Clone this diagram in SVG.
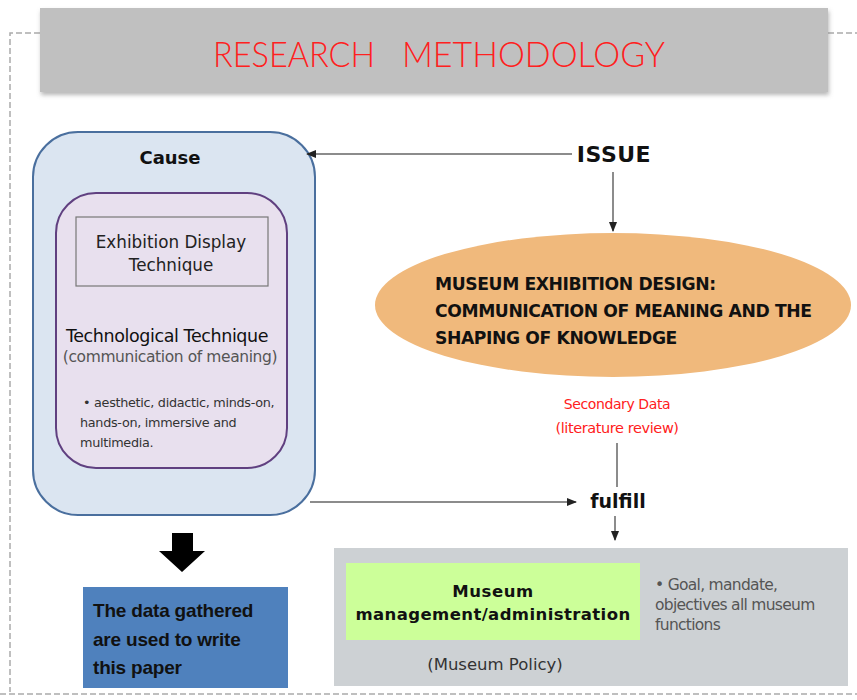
<svg xmlns="http://www.w3.org/2000/svg" width="857" height="700" viewBox="0 0 857 700">
<defs>
<style>
.dash{stroke:#aaa;stroke-width:1.5;stroke-dasharray:6,3;fill:none}
.conn{stroke:#666;stroke-width:1.5;fill:none}
.s{font-family:"DejaVu Sans","Liberation Sans",sans-serif}
.c{font-family:"Liberation Sans",Arial,sans-serif}
.t{font-family:Lato,"Liberation Sans",sans-serif;font-weight:300}
</style>
<marker id="ah" viewBox="0 0 10 10" refX="9" refY="5" markerWidth="7" markerHeight="7" orient="auto"><path d="M0,1 L10,5 L0,9 z" fill="#222"/></marker>
<filter id="sh" x="-5%" y="-10%" width="110%" height="130%"><feDropShadow dx="1" dy="3" stdDeviation="2" flood-color="#888" flood-opacity="0.6"/></filter>
</defs>
<rect width="857" height="700" fill="#fff"/>
<path class="dash" d="M40,33 H10 V692 M828,33 H857 M0,694 H857"/>
<g id="title">
<rect x="40" y="8" width="788" height="84" fill="#c0c0c0" filter="url(#sh)"/>
<text y="67" class="t" font-size="36" fill="#ff2020"><tspan x="213" textLength="162" lengthAdjust="spacingAndGlyphs">RESEARCH</tspan><tspan x="402" textLength="263" lengthAdjust="spacingAndGlyphs">METHODOLOGY</tspan></text>
</g>
<g id="cause">
<rect x="33" y="132" width="282" height="383" rx="45" fill="#dbe5f1" stroke="#4a6f9e" stroke-width="2"/>
<text x="170" y="164" text-anchor="middle" class="s" font-size="18" font-weight="bold" fill="#111">Cause</text>
</g>
<g id="technique">
<rect x="56" y="193" width="231" height="275" rx="40" fill="#e8e0ee" stroke="#604080" stroke-width="2"/>
<rect x="76" y="217" width="192" height="69" fill="#e8e0ee" stroke="#777" stroke-width="1.2"/>
<text x="171" y="248" text-anchor="middle" class="s" font-size="16.8" fill="#222">Exhibition Display</text>
<text x="171" y="271" text-anchor="middle" class="s" font-size="16.8" fill="#222">Technique</text>
<text x="167" y="342" text-anchor="middle" class="s" font-size="17.5" fill="#111" letter-spacing="-0.4">Technological Technique</text>
<text x="170" y="362" text-anchor="middle" class="s" font-size="15.5" fill="#555" letter-spacing="-0.4">(communication of meaning)</text>
<text x="83" y="407" class="s" font-size="12.8" fill="#333" letter-spacing="-0.3">• aesthetic, didactic, minds-on,</text>
<text x="80" y="427" class="s" font-size="12.8" fill="#333" letter-spacing="-0.3">hands-on, immersive and</text>
<text x="80" y="447" class="s" font-size="12.8" fill="#333" letter-spacing="-0.3">multimedia.</text>
</g>
<g id="issue">
<text x="614" y="162" text-anchor="middle" class="s" font-size="22" font-weight="bold" fill="#111" letter-spacing="0.5">ISSUE</text>
</g>
<g id="design">
<ellipse cx="613" cy="305" rx="238" ry="72" fill="#f0b97c"/>
<text x="435" y="290" class="s" font-size="17.2" font-weight="bold" fill="#111" letter-spacing="-0.4">MUSEUM EXHIBITION DESIGN:</text>
<text x="435" y="317" class="s" font-size="17.2" font-weight="bold" fill="#111" letter-spacing="-0.4">COMMUNICATION OF MEANING AND THE</text>
<text x="435" y="344" class="s" font-size="17.2" font-weight="bold" fill="#111" letter-spacing="-0.4">SHAPING OF KNOWLEDGE</text>
</g>
<g id="secondary">
<text x="617" y="409" text-anchor="middle" class="s" font-size="14" fill="#ff2020" letter-spacing="-0.4">Secondary Data</text>
<text x="617" y="433" text-anchor="middle" class="s" font-size="14.5" fill="#ff2020" letter-spacing="-0.4">(literature review)</text>
</g>
<g id="fulfill">
<text x="618" y="508" text-anchor="middle" class="s" font-size="19" font-weight="bold" fill="#111">fulfill</text>
</g>
<g id="policy">
<rect x="334" y="548" width="514" height="138" fill="#cdd1d4"/>
<rect x="346" y="563" width="294" height="77" fill="#ccff99"/>
<text x="493" y="597" text-anchor="middle" class="s" font-size="16.5" font-weight="bold" fill="#111" letter-spacing="0.6">Museum</text>
<text x="493" y="620" text-anchor="middle" class="s" font-size="16.5" font-weight="bold" fill="#111" letter-spacing="0.4">management/administration</text>
<text x="655" y="590" class="s" font-size="15.5" fill="#555" letter-spacing="-0.7">• Goal, mandate,</text>
<text x="655" y="610" class="s" font-size="15.5" fill="#555" letter-spacing="-0.7">objectives all museum</text>
<text x="655" y="630" class="s" font-size="15.5" fill="#555" letter-spacing="-0.7">functions</text>
<text x="495" y="670" text-anchor="middle" class="s" font-size="16.5" fill="#333">(Museum Policy)</text>
</g>
<g id="output">
<path d="M172,533 H193 V551 H205 L182,572 L159,551 H172 Z" fill="#000"/>
<rect x="83" y="587" width="205" height="101" fill="#4f81bd"/>
<text x="93" y="617" class="c" font-size="19" font-weight="bold" fill="#111" letter-spacing="-0.2">The data gathered</text>
<text x="93" y="646" class="c" font-size="19" font-weight="bold" fill="#111" letter-spacing="-0.2">are used to write</text>
<text x="93" y="674" class="c" font-size="19" font-weight="bold" fill="#111" letter-spacing="-0.2">this paper</text>
</g>
<g id="connectors">
<line class="conn" x1="572" y1="154" x2="307" y2="154" marker-end="url(#ah)"/>
<line class="conn" x1="613" y1="172" x2="613" y2="231" marker-end="url(#ah)"/>
<line class="conn" x1="617" y1="443" x2="617" y2="487"/>
<line class="conn" x1="310" y1="502" x2="576" y2="502" marker-end="url(#ah)"/>
<line class="conn" x1="615" y1="516" x2="615" y2="540" marker-end="url(#ah)"/>
</g>
</svg>
